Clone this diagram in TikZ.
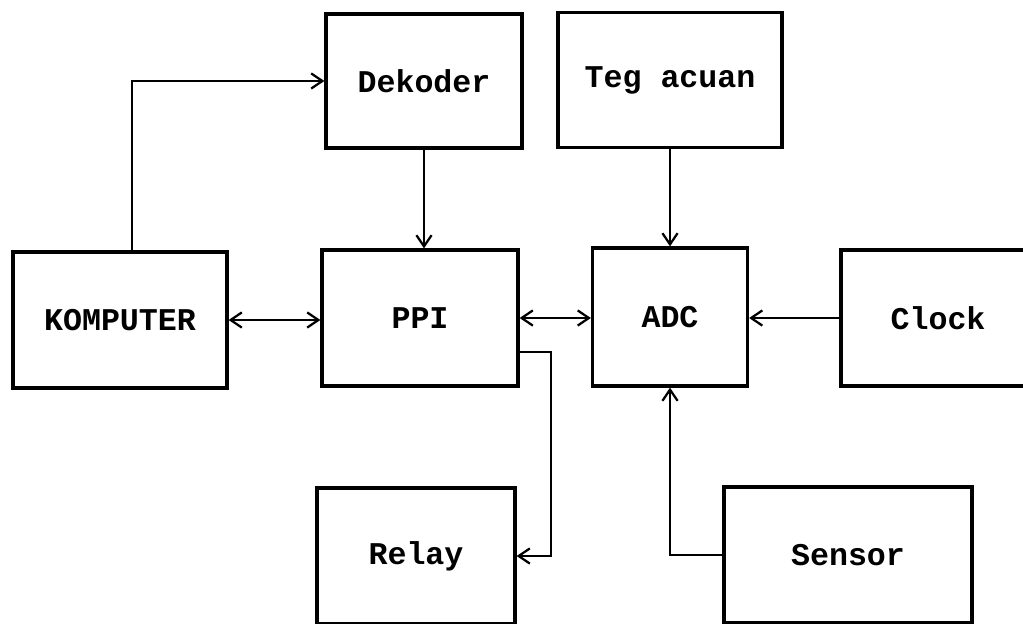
\documentclass[tikz,border=0pt]{standalone}
\usepackage{fontspec}
\setmonofont{Liberation Mono}
\usetikzlibrary{arrows.meta}

\begin{document}
\begin{tikzpicture}[x=0.025cm, y=-0.025cm, >={Straight Barb[length=2.8mm, width=3.8mm]},
  blok/.style={draw, line width=2.3pt, inner sep=0pt,
    font=\fontsize{22.5}{26}\selectfont\ttfamily\bfseries},
  garis/.style={line width=1.6pt}]
  \useasboundingbox (0,0) rectangle (1023,623);
  % blok baris atas
  \node[blok, minimum width=4.9cm,  minimum height=3.35cm] (dekoder) at (424,81)  {Dekoder};
  \node[blok, minimum width=5.6cm,  minimum height=3.375cm] (teg)    at (670,80)  {Teg acuan};
  % blok baris tengah
  \node[blok, minimum width=5.35cm, minimum height=3.4cm]  (komputer) at (120,320) {KOMPUTER};
  \node[blok, minimum width=4.9cm,  minimum height=3.4cm]  (ppi)      at (420,318) {PPI};
  \node[blok, minimum width=3.875cm,minimum height=3.45cm] (adc)      at (670,317) {ADC};
  \node[blok, minimum width=4.85cm, minimum height=3.4cm]  (clock)    at (938,318) {Clock};
  % blok baris bawah
  \node[blok, minimum width=4.95cm, minimum height=3.4cm]  (relay)    at (416,556) {Relay};
  \node[blok, minimum width=6.2cm,  minimum height=3.4cm]  (sensor)   at (848,555) {Sensor};
  % titik belok
  \coordinate (belok) at (551,352);
  % sambungan
  \draw[garis,->] ([xshift=0.3cm]komputer.north) |- (dekoder.west);
  \draw[garis,->] (dekoder.south) -- (dekoder.south |- ppi.north);
  \draw[garis,->] (teg.south) -- (teg.south |- adc.north);
  \draw[garis,<->] (komputer.east) -- (komputer.east -| ppi.west);
  \draw[garis,<->] (ppi.east) -- (ppi.east -| adc.west);
  \draw[garis,->] (clock.west) -- (clock.west -| adc.east);
  \draw[garis,->] (ppi.east |- belok) -- (belok) |- (relay.east);
  \draw[garis,->] (sensor.west) -| (adc.south);
\end{tikzpicture}
\end{document}
